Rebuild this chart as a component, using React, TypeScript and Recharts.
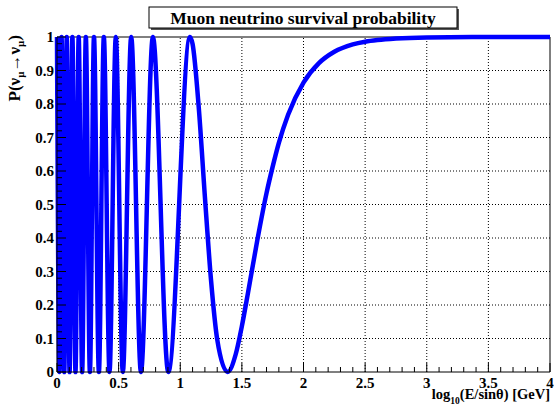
import { LineChart, Line, XAxis, YAxis, ReferenceLine } from "recharts";

// log10(E/sin(theta)) sample points (extremes + tail)
const logE = [
  0, 0.02, 0.037, 0.059, 0.079, 0.102, 0.125, 0.15, 0.176, 0.204, 0.234, 0.267,
  0.3, 0.34, 0.38, 0.426, 0.477, 0.534, 0.602, 0.681, 0.778, 0.903, 1.079,
  1.1, 1.15, 1.2, 1.25, 1.3, 1.384, 1.45, 1.5, 1.55, 1.625, 1.7, 1.75, 1.8,
  1.875, 2.0, 2.125, 2.25, 2.4, 2.5, 2.6, 2.75, 3.0, 3.5, 4.0,
];
const prob = [
  1, 0, 1, 0, 1, 0, 1, 0, 1, 0, 1, 0,
  1, 0, 1, 0, 1, 0, 1, 0, 1, 0, 1,
  0.979, 0.79, 0.523, 0.273, 0.097, 0, 0.053, 0.137, 0.237, 0.393, 0.534, 0.613, 0.684,
  0.768, 0.864, 0.922, 0.956, 0.978, 0.986, 0.991, 0.9955, 0.9986, 0.9999, 1,
];

const xGrid = [0.5, 1, 1.5, 2, 2.5, 3, 3.5];
const yGrid = [0.1, 0.2, 0.3, 0.4, 0.5, 0.6, 0.7, 0.8, 0.9];

const xTicks = Array.from({ length: 41 }, (_, i) => i / 10);
const yTicks = Array.from({ length: 51 }, (_, i) => i / 50);

const data = logE.map((x, i) => ({ logE: x, prob: prob[i] }));

const FONT = "'Liberation Serif', 'Times New Roman', serif";

const isMajor = (v: number, step: number) =>
  Math.abs(v / step - Math.round(v / step)) < 1e-6;
const fmt = (v: number) => String(Math.round(v * 10) / 10);

function XTick(props: any) {
  const { x, y, payload } = props;
  const major = isMajor(payload.value, 0.5);
  return (
    <g>
      <line x1={x} x2={x} y1={y} y2={y - (major ? 9 : 5)} stroke="#000" />
      {major && (
        <text x={x} y={y + 16} textAnchor="middle" fontFamily={FONT} fontWeight="bold" fontSize={15} fill="#000">
          {fmt(payload.value)}
        </text>
      )}
    </g>
  );
}

function YTick(props: any) {
  const { x, y, payload } = props;
  const major = isMajor(payload.value, 0.1);
  return (
    <g>
      <line x1={x} x2={x + (major ? 9 : 5)} y1={y} y2={y} stroke="#000" />
      {major && (
        <text x={x - 3} y={y + 5} textAnchor="end" fontFamily={FONT} fontWeight="bold" fontSize={15} fill="#000">
          {fmt(payload.value)}
        </text>
      )}
    </g>
  );
}

export default function App() {
  return (
    <div style={{ position: "absolute", left: 0, top: 0, width: 554, height: 409, background: "#fff" }}>
      <LineChart width={554} height={409} data={data} margin={{ top: 37, right: 4, bottom: 0, left: 0 }}>
        <XAxis
          type="number"
          dataKey="logE"
          domain={[0, 4]}
          ticks={xTicks}
          interval={0}
          tickSize={0}
          tickMargin={0}
          tick={XTick}
          height={37}
          axisLine={{ stroke: "#000" }}
        />
        <YAxis
          type="number"
          domain={[0, 1]}
          ticks={yTicks}
          interval={0}
          tickSize={0}
          tickMargin={0}
          tick={YTick}
          width={57}
          axisLine={{ stroke: "#000" }}
        />
        {xGrid.map((v) => (
          <ReferenceLine key={"gx" + v} x={v} stroke="#000" strokeDasharray="1 2" />
        ))}
        {yGrid.map((v) => (
          <ReferenceLine key={"gy" + v} y={v} stroke="#000" strokeDasharray="1 2" />
        ))}
        <ReferenceLine y={1} stroke="#000" />
        <ReferenceLine x={4} stroke="#000" />
        <Line
          type="monotone"
          dataKey="prob"
          stroke="#0000ff"
          strokeWidth={4.5}
          dot={false}
          isAnimationActive={false}
        />
      </LineChart>
      <svg width={554} height={409} style={{ position: "absolute", left: 0, top: 0, pointerEvents: "none" }}>
        <rect x={151} y={9} width={308} height={21} fill="#555" />
        <rect x={149} y={7} width={308} height={21} fill="#fff" stroke="#000" />
        <text x={303} y={24} textAnchor="middle" fontFamily={FONT} fontWeight="bold" fontSize={17.5} fill="#000">
          Muon neutrino survival probability
        </text>
        <text x={550} y={399} textAnchor="end" fontFamily={FONT} fontWeight="bold" fontSize={14.5} fill="#000">
          log
          <tspan fontSize={9.5} dy={5}>10</tspan>
          <tspan dy={-5}>(E/sinθ) [GeV]</tspan>
        </text>
        <text
          transform="rotate(-90)"
          x={-35}
          y={20}
          textAnchor="end"
          fontFamily={FONT}
          fontWeight="bold"
          fontSize={17}
          fill="#000"
        >
          P(ν<tspan fontSize={11} dy={4}>μ</tspan>
          <tspan dy={-4}>→ν</tspan>
          <tspan fontSize={11} dy={4}>μ</tspan>
          <tspan dy={-4}>)</tspan>
        </text>
      </svg>
    </div>
  );
}
